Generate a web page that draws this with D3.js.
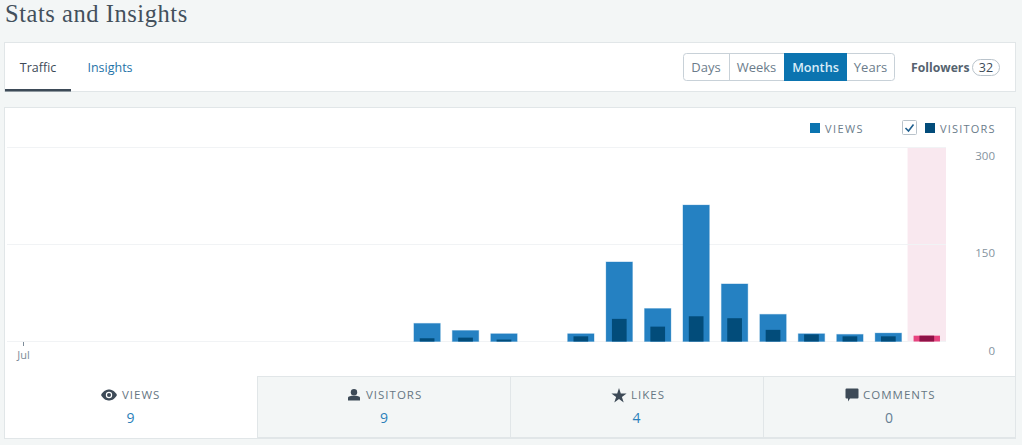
<!DOCTYPE html>
<html><head><meta charset="utf-8">
<script src="https://cdn.jsdelivr.net/npm/d3@7/dist/d3.min.js"></script>
<style>
html,body{margin:0;padding:0;background:#f3f6f6;overflow:hidden}
svg{display:block}
text{font-family:"Open Sans",sans-serif}
</style></head><body>
<svg id="c" width="1022" height="445"></svg>
<script>
const months=["Jul","Aug","Sep","Oct","Nov","Dec","Jan","Feb","Mar","Apr","May","Jun","Jul","Aug","Sep","Oct","Nov","Dec","Jan","Feb","Mar","Apr","May","Jun"];
const views=[0,0,0,0,0,0,0,0,0,0,28,17,12,0,12,123,51,211,89,42,12,11,13,9];
const visitors=[0,0,0,0,0,0,0,0,0,0,5,6,3,0,8,35,23,39,36,18,11,8,8,9];
const valueTicks=[0,150,300];
const monthTicks=[0];
const legendItems=["VIEWS","VISITORS"];
const periods=["Days","Weeks","Months","Years"];
const tabs=["Traffic","Insights"];
const summaryLabels=["VIEWS","VISITORS","LIKES","COMMENTS"];
const summaryValues=[9,9,4,0];
const followers=32;
const currentIndex=23;

const ink="#3d4a57",muted="#6b7c8b",link="#1f73a8",line="#e1e6e8",bg="#f3f6f6";
const svg=d3.select("#c");
const card=(x,y,w,h,f)=>svg.append("rect").attr("x",x+.5).attr("y",y+.5).attr("width",w).attr("height",h).attr("fill",f||"#fff").attr("stroke",line);
const label=(g,x,y,s,o)=>{o=o||{};const t=g.append("text").attr("x",x).attr("y",y).text(s).attr("font-size",o.size||13).attr("fill",o.fill||ink).attr("text-anchor",o.anchor||"start").attr("font-weight",o.weight||400).attr("letter-spacing",o.ls||0);if(o.family)t.style("font-family",o.family);return t;};

// header
label(svg,5,22,"Stats and Insights",{size:24.5,ls:.55,family:"'Liberation Serif',serif",fill:"#43505c"});
card(4,42,1011,49);
label(svg,38,72,tabs[0],{anchor:"middle",size:12.5,fill:ink});
label(svg,110,72,tabs[1],{anchor:"middle",size:12.5,fill:link});
svg.append("rect").attr("x",5).attr("y",89).attr("width",66).attr("height",2.5).attr("fill",ink);

// period buttons
const edges=[683,729,784,847,894];
svg.append("rect").attr("x",683.5).attr("y",53.5).attr("width",211).attr("height",27).attr("rx",3).attr("fill","#fff").attr("stroke","#c8d1d8");
periods.forEach((p,i)=>{
  const on=p==="Months";
  if(on) svg.append("rect").attr("x",edges[i]).attr("y",53).attr("width",edges[i+1]-edges[i]).attr("height",28).attr("fill","#0b74b0");
  else if(i>0&&periods[i-1]!=="Months") svg.append("line").attr("x1",edges[i]+.5).attr("x2",edges[i]+.5).attr("y1",54).attr("y2",80).attr("stroke","#c8d1d8");
  label(svg,(edges[i]+edges[i+1])/2,72,p,{anchor:"middle",size:on?12.7:13,fill:on?"#d9ecf8":muted,weight:on?600:400});
});
label(svg,911,72,"Followers",{size:12.2,weight:700,fill:"#55636f"});
svg.append("rect").attr("x",972.5).attr("y",59.5).attr("width",27).attr("height",16).attr("rx",8).attr("fill","#fff").attr("stroke","#b9c3cb");
label(svg,986,72,followers,{anchor:"middle",size:12.5,fill:ink});

// chart card
card(4,107,1011,331);
const x=d3.scaleBand().domain(d3.range(months.length)).range([23.5,946]).paddingInner(0).paddingOuter(0);
const y=d3.scaleLinear().domain([0,300]).range([341.5,147.5]);
const vw=26.4, sw=14.7;
const cx=i=>x(i)+x.bandwidth()/2;

svg.append("rect").attr("x",x(currentIndex)).attr("y",y(300)-.5).attr("width",x.bandwidth()).attr("height",y(0)-y(300)+.5).attr("fill","#f9e8ef");

const yAxis=d3.axisRight(y).tickValues(valueTicks).tickSize(0).tickFormat(d3.format("d"));
const yg=svg.append("g").attr("transform","translate(995,0)").call(yAxis);
yg.select(".domain").remove();
yg.selectAll("text").attr("x",0).attr("dy",0).attr("y",d=>d===0?12.5:11.5).attr("text-anchor","end").attr("font-size",11.5).attr("font-family",null).attr("fill","#8593a0");

svg.append("g").selectAll("line").data(valueTicks).join("line")
  .attr("x1",7).attr("x2",946).attr("y1",d=>Math.floor(y(d))+.5).attr("y2",d=>Math.floor(y(d))+.5).attr("stroke","#f1f3f5");

const xAxis=d3.axisBottom(x).tickValues(monthTicks).tickSize(4).tickPadding(5).tickFormat(i=>months[i]);
const xg=svg.append("g").attr("transform","translate(0,342)").call(xAxis);
xg.select(".domain").remove();
xg.selectAll(".tick").attr("transform",i=>`translate(${x(i)},0)`);
xg.selectAll("line").attr("stroke","#7d8c99");
xg.selectAll("text").attr("font-size",11).attr("font-family",null).attr("fill","#7d8c99");

const idx=d3.range(months.length).filter(i=>views[i]>0);
svg.append("g").selectAll("rect").data(idx).join("rect")
  .attr("x",i=>cx(i)-vw/2).attr("y",i=>y(views[i])).attr("width",vw).attr("height",i=>y(0)-y(views[i]))
  .attr("fill",i=>i===currentIndex?"#e8447f":"#2581c2")
  .attr("stroke",i=>i===currentIndex?"none":"#2581c2").attr("stroke-opacity",.3).attr("stroke-width",1);
svg.append("g").selectAll("rect").data(idx).join("rect")
  .attr("x",i=>cx(i)-sw/2).attr("y",i=>y(visitors[i])).attr("width",sw).attr("height",i=>y(0)-y(visitors[i]))
  .attr("fill",i=>i===currentIndex?"#8f1247":"#024c7a");

// legend
svg.append("rect").attr("x",810).attr("y",123).attr("width",10).attr("height",10).attr("fill","#0b74b0");
label(svg,825,133,legendItems[0],{size:11,ls:1.4,fill:muted});
svg.append("rect").attr("x",902.5).attr("y",120.5).attr("width",14).attr("height",14).attr("rx",1).attr("fill","#fff").attr("stroke","#b9c3cb");
svg.append("path").attr("d","M905.5 128l3 3 5-6.5").attr("fill","none").attr("stroke","#1f5f8f").attr("stroke-width",1.6);
svg.append("rect").attr("x",925).attr("y",123).attr("width",10).attr("height",10).attr("fill","#024c7a");
label(svg,940,133,legendItems[1],{size:11,ls:1.2,fill:muted});

// summary tabs
const tabEdges=[5,257,510,763,1015];
summaryLabels.forEach((s,i)=>{
  if(i>0) svg.append("rect").attr("x",tabEdges[i]+.5).attr("y",376.5).attr("width",tabEdges[i+1]-tabEdges[i]).attr("height",61).attr("fill",bg).attr("stroke",line);
});
const icons=[
 g=>{g.append("path").attr("d","M-8 0C-5-5-2-5.5 0-5.5S5-5 8 0C5 5 2 5.5 0 5.5S-5 5-8 0Z").attr("fill","#3d4a57");
     g.append("circle").attr("r",3.2).attr("fill","#fff");g.append("circle").attr("r",2).attr("fill","#3d4a57");},
 g=>{g.append("circle").attr("cy",-2.8).attr("r",3.2).attr("fill","#3d4a57");
     g.append("path").attr("d","M-6 5.5V3C-6 1.2-3 .8 0 .8S6 1.2 6 3V5.5Z").attr("fill","#3d4a57");},
 g=>{g.append("path").attr("d",d3.symbol(d3.symbolStar,72)()).attr("transform","translate(0,1)").attr("fill","#3d4a57");},
 g=>{g.append("path").attr("d","M-6.5-6.5H5.5Q6.5-6.5 6.5-5.5V2.5Q6.5 3.5 5.5 3.5H-2L-4 6.5V3.5H-5.5Q-6.5 3.5-6.5 2.5V-5.5Q-6.5-6.5-5.5-6.5Z").attr("fill","#3d4a57");}
];
const iconX=[109,354,619,852], textX=[122,366,631,863];
summaryLabels.forEach((s,i)=>{
  const g=svg.append("g").attr("transform",`translate(${iconX[i]},395)`);
  icons[i](g);
  label(svg,textX[i],399,s,{size:11.5,ls:1,fill:"#667683"});
  label(svg,[130.5,384,636.5,889][i],423,summaryValues[i],{anchor:"middle",size:14,fill:summaryValues[i]?"#2a7fba":"#667f94"});
});
</script></body></html>
